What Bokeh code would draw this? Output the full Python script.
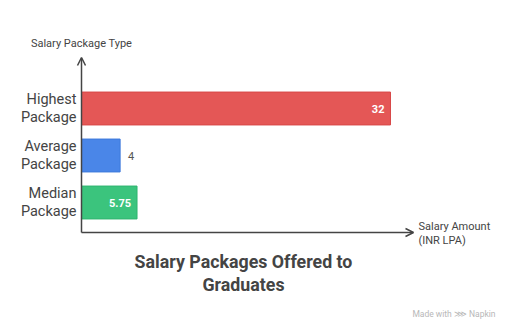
from bokeh.plotting import figure
from bokeh.models import Range1d, ColumnDataSource, Arrow, OpenHead
from bokeh.core.properties import value
from bokeh.embed import file_html
from bokeh.resources import INLINE

# ---- data ----
categories = ["Highest\nPackage", "Average\nPackage", "Median\nPackage"]
salaries = [32, 4, 5.75]
value_labels = ["32", "4", "5.75"]
title_text = "Salary Packages Offered to\nGraduates"
y_title = "Salary Package Type"
x_title = "Salary Amount\n(INR LPA)"

# ---- styles ----
fill_colors = ["#E45756", "#4A86E8", "#3BC47D"]
line_colors = ["#D84848", "#3D79DB", "#2FB46F"]
label_colors = ["#FFFFFF", "#555555", "#FFFFFF"]
label_styles = ["bold", "normal", "bold"]
label_offsets = [-6, 8, -6]
label_aligns = ["right", "left", "right"]
FONT = "Roboto"
AX = "#444444"

W, H = 512, 334
x0px, pxu_x = 81, 9.656
y0px, pxu_y = 202, 47.0

p = figure(width=W, height=H, output_backend="svg", toolbar_location=None,
           min_border=0, outline_line_color=None,
           x_range=Range1d(-x0px / pxu_x, (W - x0px) / pxu_x),
           y_range=Range1d(-(H - y0px) / pxu_y, y0px / pxu_y))
p.axis.visible = False
p.grid.visible = False
p.background_fill_color = "white"
p.border_fill_color = "white"

ypos = [2, 1, 0]
src = ColumnDataSource(dict(y=ypos, v=salaries, cat=categories, lab=value_labels,
                            fc=fill_colors, lc=line_colors, tc=label_colors,
                            st=label_styles, off=label_offsets, al=label_aligns))

p.hbar(y="y", left=0, right="v", height=0.70, fill_color="fc", line_color="lc",
       line_width=1, source=src)

# value labels
p.text(x="v", y="y", text="lab", text_color="tc", x_offset="off", text_align="al",
       text_baseline="middle", text_font=value(FONT), text_font_size="11px",
       text_font_style="st", source=src)

# category labels
p.text(x=-5 / pxu_x, y="y", text="cat", text_align="right", text_baseline="middle",
       text_font=value(FONT), text_font_size="14.5px", text_color="#444444",
       text_line_height=1.1, source=src)

# axes
ybot = (y0px - 232) / pxu_y
ytop = (y0px - 57) / pxu_y
xend = (413 - x0px) / pxu_x
p.add_layout(Arrow(end=OpenHead(size=8, line_color=AX, line_width=1.5),
                   x_start=0, y_start=ybot, x_end=0, y_end=ytop,
                   line_color=AX, line_width=1.5))
p.add_layout(Arrow(end=OpenHead(size=8, line_color=AX, line_width=1.5),
                   x_start=0, y_start=ybot, x_end=xend, y_end=ybot,
                   line_color=AX, line_width=1.5))

# axis titles
p.text(x=[0], y=[(y0px - 43) / pxu_y], text=[y_title], text_align="center",
       text_baseline="middle", text_font=value(FONT), text_font_size="11px",
       text_color="#444444")
p.text(x=[(418 - x0px) / pxu_x], y=[(y0px - 233) / pxu_y], text=[x_title],
       text_align="left", text_baseline="middle", text_font=value(FONT),
       text_font_size="11px", text_color="#444444", text_line_height=1.1)

# chart title
p.text(x=[(243 - x0px) / pxu_x], y=[(y0px - 272.5) / pxu_y], text=[title_text],
       text_align="center", text_baseline="middle", text_font=value(FONT),
       text_font_size="17.8px", text_font_style="bold", text_color="#444444",
       text_line_height=1.1)

# watermark
p.text(x=[(495 - x0px) / pxu_x], y=[(y0px - 313) / pxu_y], text=["Made with \u22d9 Napkin"],
       text_align="right", text_baseline="middle", text_font=value(FONT),
       text_font_size="8.5px", text_color="#B8B8B8")

open("out.html", "w").write(file_html(p, INLINE))
